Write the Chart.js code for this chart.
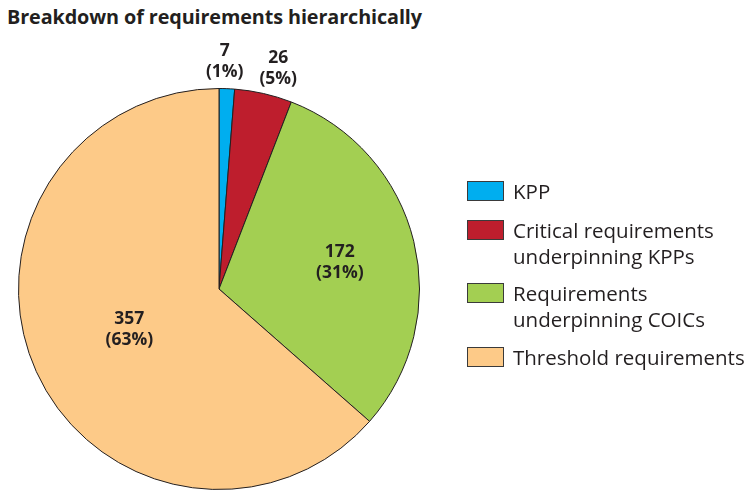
<!DOCTYPE html>
<html>
<head>
<meta charset="utf-8">
<script src="https://cdn.jsdelivr.net/npm/chart.js@4"></script>
<style>
  html, body { margin: 0; padding: 0; background: #fff; }
  body { width: 751px; height: 491px; position: relative; overflow: hidden;
         font-family: "Open Sans", "Noto Sans", sans-serif; color: #231f20; }
  #title { position: absolute; left: 7px; top: 3px; font-size: 19.8px; font-weight: 700; letter-spacing: -0.1px; }
  #wrap { position: absolute; left: 0; top: 0; width: 751px; height: 491px; }
  #legend { position: absolute; left: 467px; top: 0; }
  .item { position: absolute; left: 0; display: flex; align-items: flex-start; white-space: nowrap; }
  .box { width: 35px; height: 18px; border: 1.5px solid #3a3a3a; margin-right: 9px; flex: none; }
  .txt { font-size: 20.5px; line-height: 26.5px; margin-top: -3.5px; }
</style>
</head>
<body>
<div id="title">Breakdown of requirements hierarchically</div>
<div id="wrap"><canvas id="pie"></canvas></div>
<div id="legend"></div>
<script>
// –¥–∞–Ω–Ω—ã–µ
const categories = ['KPP', 'Critical requirements underpinning KPPs', 'Requirements underpinning COICs', 'Threshold requirements'];
const legendLines = [['KPP'], ['Critical requirements', 'underpinning KPPs'], ['Requirements', 'underpinning COICs'], ['Threshold requirements']];
const counts = [7, 26, 172, 357];
const percents = [1, 5, 31, 63];
const colors = ['#00aeef', '#be1e2d', '#a3cf52', '#fdca88'];

// where each label sits, relative to the slice (radius share, angle nudge in degrees)
const labelPlace = [
  { r: 1.135, da: -0.8 },
  { r: 1.14, da: 2.2 },
  { r: 0.617, da: 1.4 },
  { r: 0.49, da: 0.3 }
];
const legendTops = [181, 220, 283, 347];

// legend, html so the two-line labels wrap like the original
const legend = document.getElementById('legend');
legendLines.forEach((lines, i) => {
  const it = document.createElement('div');
  it.className = 'item';
  it.style.top = legendTops[i] + 'px';
  it.innerHTML = `<div class="box" style="background:${colors[i]}"></div><div class="txt">${lines.join('<br>')}</div>`;
  legend.appendChild(it);
});

const sliceLabels = {
  id: 'sliceLabels',
  afterDatasetsDraw(chart) {
    const ctx = chart.ctx;
    const arcs = chart.getDatasetMeta(0).data;
    ctx.save();
    ctx.fillStyle = '#231f20';
    ctx.font = '700 17.5px "Open Sans", "Noto Sans", sans-serif';
    ctx.textAlign = 'center';
    ctx.textBaseline = 'middle';
    arcs.forEach((arc, i) => {
      const p = arc.getProps(['x', 'y', 'startAngle', 'endAngle', 'outerRadius'], true);
      const a = (p.startAngle + p.endAngle) / 2 + labelPlace[i].da * Math.PI / 180;
      const r = p.outerRadius * labelPlace[i].r;
      const x = p.x + Math.cos(a) * r;
      const y = p.y + Math.sin(a) * r;
      ctx.fillText(String(counts[i]), x, y - 10.5);
      ctx.fillText('(' + percents[i] + '%)', x, y + 10.5);
    });
    ctx.restore();
  }
};

new Chart(document.getElementById('pie').getContext('2d'), {
  type: 'pie',
  data: {
    labels: categories,
    datasets: [{
      data: counts,
      backgroundColor: colors,
      borderColor: '#231f20',
      borderWidth: 1
    }]
  },
  options: {
    responsive: true,
    maintainAspectRatio: false,
    animation: false,
    layout: { padding: { left: 18, top: 88, right: 331, bottom: 1 } },
    plugins: {
      legend: { display: false },
      tooltip: { enabled: false }
    }
  },
  plugins: [sliceLabels]
});
</script>
</body>
</html>
